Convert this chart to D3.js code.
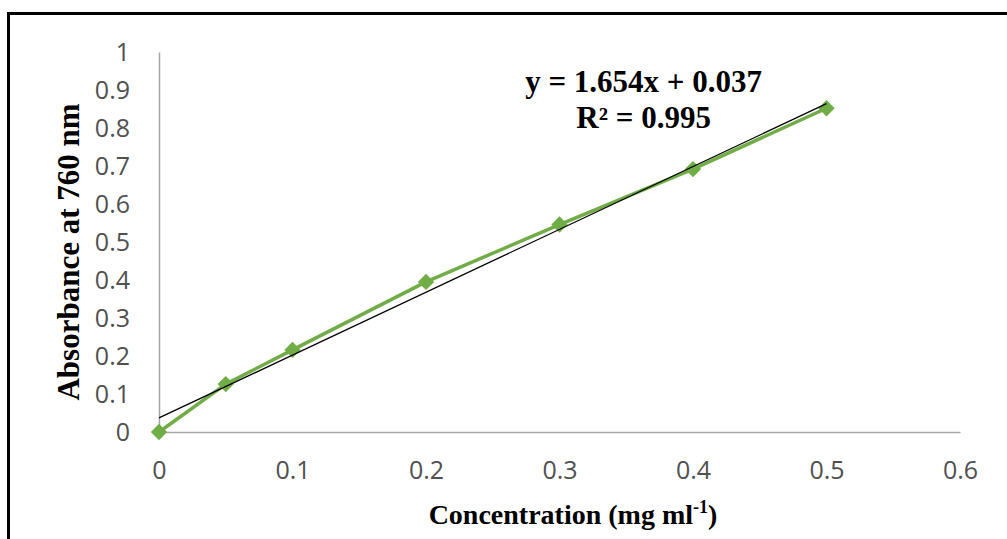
<!DOCTYPE html>
<html>
<head>
<meta charset="utf-8">
<script src="https://cdn.jsdelivr.net/npm/d3@7"></script>
<style>
  html, body { margin: 0; padding: 0; background: #fff; }
  svg { display: block; }
</style>
</head>
<body>
<div id="chart"></div>
<script>
// calibration data
var concentration = [0, 0.05, 0.1, 0.2, 0.3, 0.4, 0.5];
var absorbance    = [0.0, 0.126, 0.216, 0.395, 0.546, 0.692, 0.852];
var xTicks = [0, 0.1, 0.2, 0.3, 0.4, 0.5, 0.6];
var yTicks = [0, 0.1, 0.2, 0.3, 0.4, 0.5, 0.6, 0.7, 0.8, 0.9, 1];
var slope = 1.654, intercept = 0.037;
var equationLines = ["y = 1.654x + 0.037", "R² = 0.995"];

var width = 1007, height = 539;
var margins = { left: 159, right: 47, top: 52, bottom: 107 };
var plotW = width - margins.left - margins.right;
var plotH = height - margins.top - margins.bottom;

var svg = d3.select("#chart").append("svg")
    .attr("width", width)
    .attr("height", height);

// outer frame (bottom is cut off in the picture)
svg.append("path")
    .attr("d", "M8.5," + height + "V13.5H" + width)
    .attr("fill", "none")
    .attr("stroke", "#000")
    .attr("stroke-width", 3);

var g = svg.append("g")
    .attr("transform", "translate(" + margins.left + "," + margins.top + ")");

var x = d3.scaleLinear().domain([0, 0.6]).range([0, plotW]);
var y = d3.scaleLinear().domain([0, 1]).range([plotH, 0]);

var tickFont = "Open Sans, Liberation Sans, sans-serif";

// axes
var xAxis = g.append("g")
    .attr("transform", "translate(0," + plotH + ")")
    .call(d3.axisBottom(x).tickValues(xTicks).tickSize(0).tickPadding(29)
        .tickFormat(function(d) { return d3.format("")(d); }));
xAxis.select(".domain").attr("stroke", "#a6a6a6").attr("stroke-width", 1.5);
xAxis.selectAll("text")
    .attr("fill", "#505050")
    .style("font-family", tickFont)
    .style("font-size", "25px");

var yAxis = g.append("g")
    .call(d3.axisLeft(y).tickValues(yTicks).tickSize(0).tickPadding(29)
        .tickFormat(function(d) { return d3.format("")(d); }));
yAxis.select(".domain").attr("stroke", "#a6a6a6").attr("stroke-width", 1.5);
yAxis.selectAll("text")
    .attr("fill", "#505050")
    .style("font-family", tickFont)
    .style("font-size", "25px");

// data series
var points = concentration.map(function(c, i) { return { x: c, y: absorbance[i] }; });
var line = d3.line()
    .x(function(d) { return x(d.x); })
    .y(function(d) { return y(d.y); });

g.append("path")
    .datum(points)
    .attr("d", line)
    .attr("fill", "none")
    .attr("stroke", "#70ad47")
    .attr("stroke-width", 3.5)
    .attr("stroke-linejoin", "round");

g.selectAll(".pt")
    .data(points)
  .enter().append("path")
    .attr("class", "pt")
    .attr("d", d3.symbol().type(d3.symbolDiamond2).size(170))
    .attr("transform", function(d) { return "translate(" + x(d.x) + "," + y(d.y) + ")"; })
    .attr("fill", "#70ad47");

// linear trendline
var trend = [0, 0.5].map(function(c) { return { x: c, y: slope * c + intercept }; });
g.append("path")
    .datum(trend)
    .attr("d", line)
    .attr("fill", "none")
    .attr("stroke", "#000")
    .attr("stroke-width", 1.3);

// equation label
var serif = "Liberation Serif, Times New Roman, serif";
g.append("text")
    .attr("text-anchor", "middle")
    .style("font-family", serif)
    .style("font-weight", "bold")
    .style("font-size", "31px")
    .selectAll("tspan")
    .data(equationLines)
  .enter().append("tspan")
    .attr("x", x(0.363))
    .attr("y", function(d, i) { return 40 + i * 36; })
    .text(function(d) { return d; });

// axis titles
var xTitle = svg.append("text")
    .attr("x", 573)
    .attr("y", 524)
    .attr("text-anchor", "middle")
    .style("font-family", serif)
    .style("font-weight", "bold")
    .style("font-size", "28px")
    .attr("fill", "#000");
xTitle.append("tspan").text("Concentration (mg ml");
xTitle.append("tspan").attr("dy", -11).style("font-size", "18px").text("-1");
xTitle.append("tspan").attr("dy", 11).text(")");

svg.append("text")
    .attr("transform", "translate(79," + (margins.top + plotH / 2 + 10) + ") rotate(-90)")
    .attr("text-anchor", "middle")
    .style("font-family", serif)
    .style("font-weight", "bold")
    .style("font-size", "31px")
    .attr("fill", "#000")
    .text("Absorbance at 760 nm");
</script>
</body>
</html>
